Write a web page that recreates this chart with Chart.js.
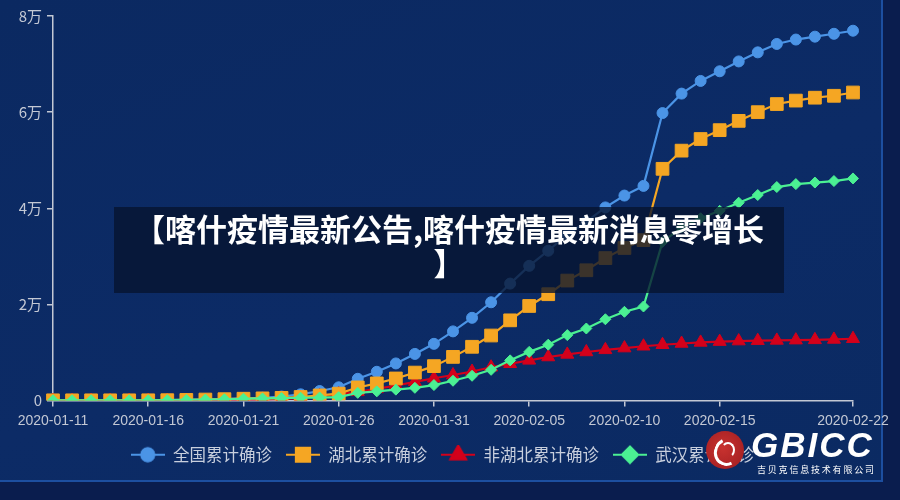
<!DOCTYPE html>
<html>
<head>
<meta charset="utf-8">
<script src="https://cdn.jsdelivr.net/npm/chart.js@4/dist/chart.umd.min.js"></script>
<style>
  html, body { margin: 0; padding: 0; }
  body { width: 900px; height: 500px; overflow: hidden; background: #0a1d4e; position: relative; font-family: "Noto Sans CJK SC", "Noto Sans", sans-serif; }
  .panel { position: absolute; left: 0; top: 0; width: 881px; height: 480px; border-right: 2px solid #1d4fa0; border-bottom: 2px solid #1d4fa0;
    background: linear-gradient(160deg, #0b2961 0%, #0c2b66 55%, #0b2a62 100%); }
  .chart-container { position: absolute; left: 0; top: 0; width: 900px; height: 500px; }
  .headline { position: absolute; left: 114px; top: 207px; width: 670px; height: 86px; background: rgba(7, 19, 46, 0.78);
    color: #fff; font-weight: 700; font-size: 31px; line-height: 34px; text-align: center; padding-top: 4px; box-sizing: border-box; }
  .logo { position: absolute; left: 704px; top: 430px; width: 190px; height: 48px; }
  .logo .mark { position: absolute; left: 2px; top: 1px; width: 38px; height: 38px; border-radius: 50%; background: radial-gradient(circle at 45% 45%, #c8322f, #9e1c20); }
  .logo .mark::before { content: ""; position: absolute; left: 8px; top: 7px; width: 20px; height: 22px; border-radius: 50%; border: 3px solid #fff; border-right-color: transparent; border-top-color: transparent; transform: rotate(20deg); }
  .logo .mark::after { content: ""; position: absolute; left: 15px; top: 11px; width: 10px; height: 12px; border-radius: 50%; border: 2px solid #fff; border-left-color: transparent; border-bottom-color: transparent; }
  .logo .word { position: absolute; left: 47px; top: -5px; color: #fff; font-family: "Liberation Sans", Arial, sans-serif; font-weight: 700; font-style: italic; font-size: 35px; letter-spacing: 2px; }
  .logo .sub { position: absolute; left: 53px; top: 33px; color: #fff; font-size: 9px; letter-spacing: 1.8px; white-space: nowrap; }
</style>
</head>
<body>
<div class="panel"></div>
<div class="chart-container"><canvas id="myChart" width="900" height="500"></canvas></div>
<div class="headline">【喀什疫情最新公告,喀什疫情最新消息零增长<br>】</div>
<div class="logo"><div class="mark"></div><div class="word">GBICC</div><div class="sub">吉贝克信息技术有限公司</div></div>
<script>
const dates = [
  '2020-01-11', '2020-01-12', '2020-01-13', '2020-01-14', '2020-01-15', '2020-01-16', '2020-01-17',
  '2020-01-18', '2020-01-19', '2020-01-20', '2020-01-21', '2020-01-22', '2020-01-23', '2020-01-24',
  '2020-01-25', '2020-01-26', '2020-01-27', '2020-01-28', '2020-01-29', '2020-01-30', '2020-01-31',
  '2020-02-01', '2020-02-02', '2020-02-03', '2020-02-04', '2020-02-05', '2020-02-06', '2020-02-07',
  '2020-02-08', '2020-02-09', '2020-02-10', '2020-02-11', '2020-02-12', '2020-02-13', '2020-02-14',
  '2020-02-15', '2020-02-16', '2020-02-17', '2020-02-18', '2020-02-19', '2020-02-20', '2020-02-21',
  '2020-02-22'
];

const national = [
  41, 41, 41, 41, 41, 45, 62, 121, 198, 291, 440, 571, 830, 1287, 1975, 2744, 4515, 5974, 7711, 9692, 11791,
  14380, 17205, 20438, 24324, 28018, 31161, 34546, 37198, 40171, 42638, 44653, 59804, 63851, 66492,
  68500, 70548, 72436, 74185, 75100, 75700, 76300, 76936
];
const hubei = [
  41, 41, 41, 41, 41, 45, 62, 121, 198, 270, 375, 444, 549, 729, 1052, 1423, 2714, 3554, 4586, 5806, 7153,
  9074, 11177, 13522, 16678, 19665, 22112, 24953, 27100, 29631, 31728, 33366, 48206, 51986, 54406,
  56249, 58182, 59989, 61682, 62400, 63000, 63400, 64084
];
const outsideHubei = [
  0, 0, 0, 0, 0, 0, 0, 0, 0, 21, 65, 127, 281, 558, 923, 1321, 1801, 2420, 3125, 3886, 4638,
  5306, 6028, 6916, 7646, 8353, 9049, 9593, 10098, 10540, 10910, 11287, 11598, 11865, 12086,
  12251, 12366, 12447, 12503, 12560, 12620, 12700, 12852
];
const wuhan = [
  41, 41, 41, 41, 41, 45, 62, 121, 198, 258, 363, 425, 495, 572, 618, 698, 1590, 1905, 2261, 2639, 3215,
  4109, 5142, 6384, 8351, 10117, 11618, 13603, 14982, 16902, 18454, 19558, 32994, 35991, 37914,
  39462, 41152, 42752, 44412, 45027, 45346, 45660, 46201
];

const seriesNames = ['全国累计确诊', '湖北累计确诊', '非湖北累计确诊', '武汉累计确诊'];
const seriesColors = ['#4b94e6', '#f5a623', '#d3011b', '#4bf093'];
const axisColor = '#c3c8d4';

// legend icon: short line with the marker on top
function makeIcon(color, style, radius) {
  const c = document.createElement('canvas');
  c.width = 34;
  c.height = 20;
  const ctx = c.getContext('2d');
  ctx.strokeStyle = color;
  ctx.lineWidth = 2;
  ctx.beginPath();
  ctx.moveTo(0, 10);
  ctx.lineTo(34, 10);
  ctx.stroke();
  ctx.fillStyle = color;
  Chart.helpers.drawPoint(ctx, { pointStyle: style, rotation: 0, radius: radius, borderWidth: 1 }, 17, 10);
  ctx.fill();
  ctx.stroke();
  return c;
}

const icons = [
  makeIcon(seriesColors[0], 'circle', 6.5),
  makeIcon(seriesColors[1], 'rect', 10),
  makeIcon(seriesColors[2], 'triangle', 9),
  makeIcon(seriesColors[3], 'rectRot', 8),
];

function lineSet(i, data, style, radius, order) {
  return {
    label: seriesNames[i],
    data: data,
    borderColor: seriesColors[i],
    backgroundColor: seriesColors[i],
    pointBackgroundColor: seriesColors[i],
    pointBorderColor: seriesColors[i],
    pointStyle: style,
    pointRadius: radius,
    pointBorderWidth: 1,
    borderWidth: 2.2,
    tension: 0,
    order: order,
  };
}

// legend sits centred on the whole page, not just the plot width
const legendShift = {
  id: 'legendShift',
  afterLayout(chart) {
    chart.legend.left += 16;
    chart.legend.right += 16;
  },
};

const ctx = document.getElementById('myChart').getContext('2d');
new Chart(ctx, {
  type: 'line',
  data: {
    labels: dates,
    datasets: [
      lineSet(0, national, 'circle', 5.5, 3),
      lineSet(1, hubei, 'rect', 9, 1),
      lineSet(2, outsideHubei, 'triangle', 7.5, 2),
      lineSet(3, wuhan, 'rectRot', 5.5, 0),
    ],
  },
  plugins: [legendShift],
  options: {
    responsive: false,
    animation: false,
    layout: { padding: { top: 16, right: 47, left: 0, bottom: 27 } },
    scales: {
      x: {
        offset: false,
        grid: { drawOnChartArea: false, drawTicks: true, tickLength: 6, color: axisColor, lineWidth: 1.5 },
        border: { color: axisColor, width: 1.5 },
        ticks: {
          color: axisColor,
          font: { size: 14, family: 'Liberation Sans, Arial, sans-serif' },
          autoSkip: false,
          maxRotation: 0,
          padding: 6,
          callback: function (value, index) {
            if (index % 5 === 0 && index <= 35) return this.getLabelForValue(value);
            if (index === dates.length - 1) return this.getLabelForValue(value);
            return null;
          },
        },
        afterFit: (scale) => { scale.height = 32; },
      },
      y: {
        min: 0,
        max: 80000,
        grid: { drawOnChartArea: false, drawTicks: true, tickLength: 6, color: axisColor, lineWidth: 1.5 },
        border: { color: axisColor, width: 1.5 },
        ticks: {
          stepSize: 20000,
          color: axisColor,
          padding: 5,
          font: { size: 15, family: 'Noto Sans CJK SC, Liberation Sans, sans-serif' },
          callback: (v) => (v === 0 ? '0' : v / 10000 + '万'),
        },
        afterFit: (scale) => { scale.width = 53; },
      },
    },
    plugins: {
      tooltip: { enabled: false },
      legend: {
        position: 'bottom',
        labels: {
          usePointStyle: true,
          pointStyleWidth: 34,
          padding: 14,
          color: '#c8cfdd',
          font: { size: 16.5, family: 'Noto Sans CJK SC, sans-serif' },
          sort: (a, b) => a.datasetIndex - b.datasetIndex,
          generateLabels: (chart) => {
            const items = Chart.defaults.plugins.legend.labels.generateLabels(chart);
            items.forEach((it) => { it.pointStyle = icons[it.datasetIndex]; });
            return items;
          },
        },
      },
    },
  },
});
</script>
</body>
</html>
